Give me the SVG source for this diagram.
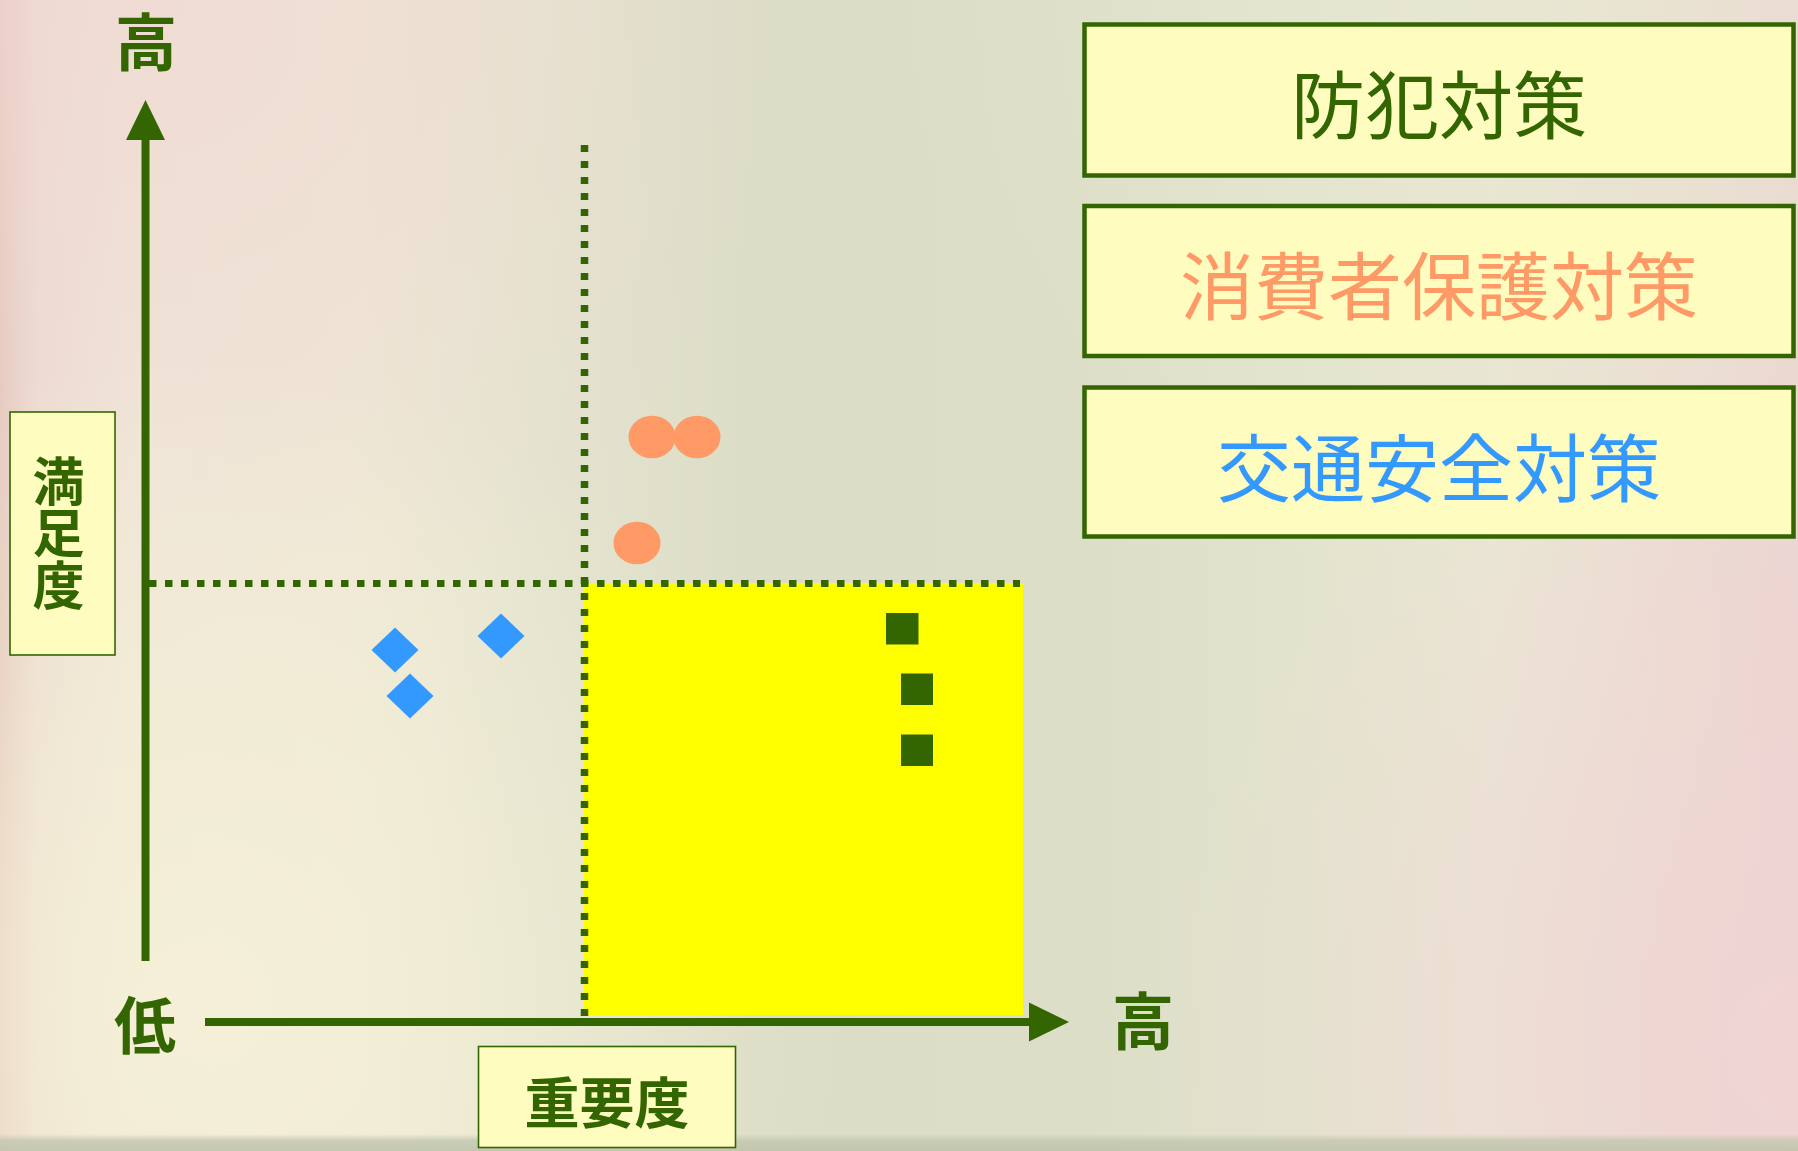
<svg xmlns="http://www.w3.org/2000/svg" width="1798" height="1151" viewBox="0 0 1798 1151">
<defs>
  <linearGradient id="bgH" x1="0" y1="0" x2="1" y2="0">
    <stop offset="0" stop-color="#E4C6BC"/>
    <stop offset="0.02" stop-color="#ECDCD2"/>
    <stop offset="0.07" stop-color="#EFE6D8"/>
    <stop offset="0.2" stop-color="#EEE8D6"/>
    <stop offset="0.3" stop-color="#E4E3CF"/>
    <stop offset="0.42" stop-color="#DCDDC7"/>
    <stop offset="0.6" stop-color="#DCDEC8"/>
    <stop offset="0.72" stop-color="#E2E3CD"/>
    <stop offset="0.83" stop-color="#EAE6D4"/>
    <stop offset="0.92" stop-color="#ECDDD2"/>
    <stop offset="1" stop-color="#ECD6D2"/>
  </linearGradient>
  <radialGradient id="pinkTL" cx="150" cy="0" r="650" gradientUnits="userSpaceOnUse">
    <stop offset="0" stop-color="#F0D8D2" stop-opacity="0.75"/>
    <stop offset="1" stop-color="#F0D8D2" stop-opacity="0"/>
  </radialGradient>
  <radialGradient id="creamBL" cx="200" cy="1000" r="650" gradientUnits="userSpaceOnUse">
    <stop offset="0" stop-color="#F6F2D6" stop-opacity="0.8"/>
    <stop offset="1" stop-color="#F6F2D6" stop-opacity="0"/>
  </radialGradient>
  <radialGradient id="pinkBR" cx="1798" cy="1050" r="650" gradientUnits="userSpaceOnUse">
    <stop offset="0" stop-color="#F0D4D4" stop-opacity="0.8"/>
    <stop offset="1" stop-color="#F0D4D4" stop-opacity="0"/>
  </radialGradient>
  <radialGradient id="greenTR" cx="1500" cy="0" r="600" gradientUnits="userSpaceOnUse">
    <stop offset="0" stop-color="#E6E8D0" stop-opacity="0.7"/>
    <stop offset="1" stop-color="#E6E8D0" stop-opacity="0"/>
  </radialGradient>
  <linearGradient id="band" x1="0" y1="0" x2="0" y2="1">
    <stop offset="0" stop-color="#C4C8B0" stop-opacity="0"/>
    <stop offset="0.4" stop-color="#C4C8B0" stop-opacity="0.85"/>
    <stop offset="1" stop-color="#C0C4AC" stop-opacity="0.9"/>
  </linearGradient>
  <marker id="arrow" markerUnits="userSpaceOnUse" markerWidth="42" markerHeight="42" viewBox="0 -21 42 42" refX="0" refY="0" orient="auto">
    <path d="M0,-19.5 L40,0 L0,19.5 Z" fill="#336600"/>
  </marker>
  <style>
    .axis { stroke: #336600; stroke-width: 8; fill: none; marker-end: url(#arrow); }
    .dots { stroke: #336600; fill: none; }
    .lbl { font-family: "Noto Sans CJK JP", "Noto Sans CJK SC", sans-serif; font-weight: 700; fill: #336600; text-anchor: middle; }
    .vlbl { font-family: "Noto Sans CJK JP", "Noto Sans CJK SC", sans-serif; font-weight: 700; fill: #336600; writing-mode: vertical-rl; text-orientation: upright; }
    .labelbox { fill: #FFFCC0; stroke: #336600; stroke-width: 1.6; }
    .legbox { fill: #FFFCC0; stroke: #336600; stroke-width: 4.5; }
    .leg { font-family: "Noto Sans CJK JP", "Noto Sans CJK SC", sans-serif; font-weight: 400; font-size: 74px; text-anchor: middle; }
    .circ { fill: #FF9966; }
    .dia { fill: #3399FF; }
    .sq { fill: #336600; }
  </style>
</defs>

<g id="background">
  <rect x="0" y="0" width="1798" height="1151" fill="url(#bgH)"/>
  <rect x="0" y="0" width="1798" height="1151" fill="url(#pinkTL)"/>
  <rect x="0" y="0" width="1798" height="1151" fill="url(#creamBL)"/>
  <rect x="0" y="0" width="1798" height="1151" fill="url(#pinkBR)"/>
  <rect x="0" y="0" width="1798" height="1151" fill="url(#greenTR)"/>
  <rect x="0" y="1134" width="1798" height="17" fill="url(#band)"/>
</g>

<g id="quadrant">
  <rect x="584" y="583" width="439" height="432" fill="#FFFF00"/>
</g>

<g id="connectors">
  <line class="axis" x1="145.5" y1="961" x2="145.5" y2="140"/>
  <line class="axis" x1="205" y1="1022" x2="1029" y2="1022"/>
  <line class="dots" x1="584.5" y1="145" x2="584.5" y2="1016" stroke-width="7.5" stroke-dasharray="7 9"/>
  <line class="dots" x1="149" y1="583.5" x2="1020" y2="583.5" stroke-width="7" stroke-dasharray="7.5 8.5"/>
</g>

<g id="axis-labels">
  <text id="y-high" class="lbl" x="146" y="66" font-size="62">高</text>
  <text id="x-low" class="lbl" x="145" y="1049" font-size="62">低</text>
  <text id="x-high" class="lbl" x="1143" y="1045" font-size="62">高</text>
</g>

<g id="label-satisfaction">
  <rect class="labelbox" x="10" y="412" width="105" height="243"/>
  <text class="vlbl" x="58.5" y="455" font-size="52">満足度</text>
</g>

<g id="label-importance">
  <rect class="labelbox" x="478.5" y="1046.5" width="257" height="101"/>
  <text class="lbl" x="607" y="1123" font-size="55">重要度</text>
</g>

<g id="legend-crime">
  <rect class="legbox" x="1084.5" y="24.5" width="709" height="151"/>
  <text class="leg" x="1439" y="133" fill="#336600">防犯対策</text>
</g>
<g id="legend-consumer">
  <rect class="legbox" x="1084.5" y="206" width="709" height="150"/>
  <text class="leg" x="1439" y="314" fill="#FF9966">消費者保護対策</text>
</g>
<g id="legend-traffic">
  <rect class="legbox" x="1084.5" y="387.5" width="709" height="149"/>
  <text class="leg" x="1439" y="496" fill="#3399FF">交通安全対策</text>
</g>

<g id="points-consumer">
  <ellipse class="circ" cx="652" cy="437" rx="23.5" ry="21.3"/>
  <ellipse class="circ" cx="697" cy="437" rx="23.5" ry="21.3"/>
  <ellipse class="circ" cx="637" cy="543" rx="23.5" ry="21.3"/>
</g>

<g id="points-traffic">
  <polygon class="dia" points="395,627.5 418.5,650 395,672.5 371.5,650"/>
  <polygon class="dia" points="410,673.5 433.5,696 410,718.5 386.5,696"/>
  <polygon class="dia" points="501,613.5 524.5,636 501,658.5 477.5,636"/>
</g>

<g id="points-crime">
  <rect class="sq" x="886" y="613" width="32.5" height="31.5"/>
  <rect class="sq" x="901" y="673.5" width="32" height="31.5"/>
  <rect class="sq" x="901" y="734.5" width="32" height="31.5"/>
</g>
</svg>
